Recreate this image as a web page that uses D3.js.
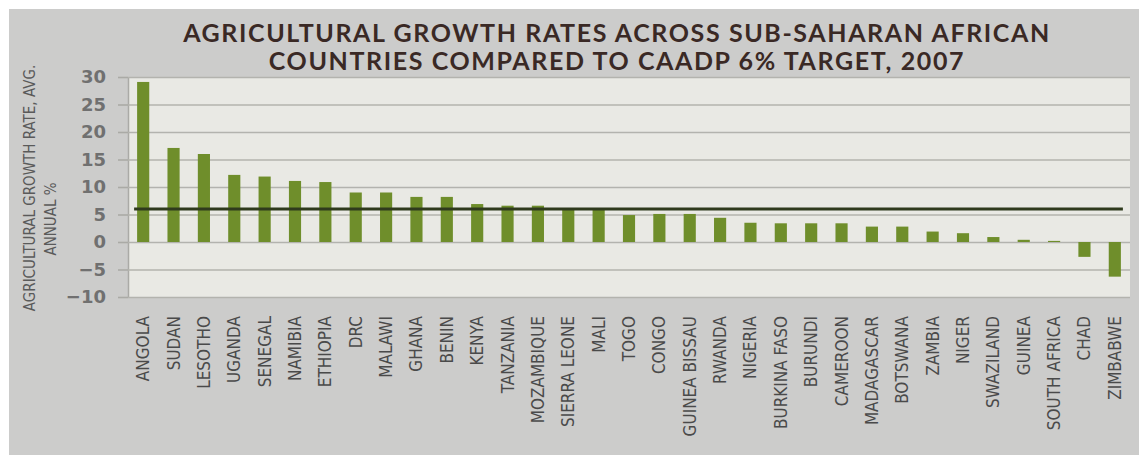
<!DOCTYPE html>
<html>
<head>
<meta charset="utf-8">
<script src="https://cdn.jsdelivr.net/npm/d3@7"></script>
<style>
  body { margin: 0; background: #ffffff; }
  svg { display: block; }
</style>
</head>
<body>
<div id="chart"></div>
<script>
// values
const countries = ["ANGOLA", "SUDAN", "LESOTHO", "UGANDA", "SENEGAL", "NAMIBIA", "ETHIOPIA", "DRC",
  "MALAWI", "GHANA", "BENIN", "KENYA", "TANZANIA", "MOZAMBIQUE", "SIERRA LEONE", "MALI", "TOGO",
  "CONGO", "GUINEA BISSAU", "RWANDA", "NIGERIA", "BURKINA FASO", "BURUNDI", "CAMEROON",
  "MADAGASCAR", "BOTSWANA", "ZAMBIA", "NIGER", "SWAZILAND", "GUINEA", "SOUTH AFRICA", "CHAD", "ZIMBABWE"];
const growthRates = [29.1, 17.1, 16.0, 12.2, 11.9, 11.1, 10.9, 9.0,
  9.0, 8.2, 8.2, 6.9, 6.6, 6.6, 6.1, 6.1, 4.9,
  5.1, 5.1, 4.4, 3.5, 3.4, 3.4, 3.4,
  2.8, 2.8, 1.9, 1.6, 0.9, 0.4, 0.2, -2.7, -6.3];
const caadpTarget = 6;
const yTicks = [30, 25, 20, 15, 10, 5, 0, -5, -10];
const titleLines = ["AGRICULTURAL GROWTH RATES ACROSS SUB-SAHARAN AFRICAN",
  "COUNTRIES COMPARED TO CAADP 6% TARGET, 2007"];
const yLabelLines = ["AGRICULTURAL GROWTH RATE, AVG.", "ANNUAL %"];

const dims = { width: 1139, height: 455,
               plot: { left: 128, right: 1130, top: 77, bottom: 297 } };

const svg = d3.select("#chart").append("svg")
  .attr("width", dims.width)
  .attr("height", dims.height);

// grey panel behind everything
svg.append("rect")
  .attr("x", 9).attr("y", 9)
  .attr("width", dims.width - 9).attr("height", dims.height - 9)
  .attr("fill", "#cccccb");

let x = d3.scaleBand()
  .domain(countries)
  .range([dims.plot.left, dims.plot.right])
  .paddingInner(0.6)
  .paddingOuter(0.3);

let y = d3.scaleLinear()
  .domain([-10, 30])
  .range([dims.plot.bottom, dims.plot.top]);

// plot area
svg.append("rect")
  .attr("x", dims.plot.left)
  .attr("y", dims.plot.top)
  .attr("width", dims.plot.right - dims.plot.left)
  .attr("height", dims.plot.bottom - dims.plot.top)
  .attr("fill", "#e9e9e4");

let yAxis = g => g
  .attr("transform", "translate(" + dims.plot.left + ",0)")
  .call(d3.axisLeft(y)
    .tickValues(yTicks)
    .tickSizeInner(-(dims.plot.right - dims.plot.left))
    .tickSizeOuter(0)
    .tickPadding(22))
  .call(g => g.select(".domain").attr("stroke", "#aaaaa6").attr("stroke-width", 1.5))
  .call(g => g.selectAll(".tick line").attr("stroke", "#b3b3ae").attr("stroke-width", 1.6))
  .call(g => g.selectAll(".tick").append("line")
    .attr("x1", -10).attr("x2", 0)
    .attr("stroke", "#aaaaa6").attr("stroke-width", 1.6))
  .call(g => g.selectAll(".tick text")
    .attr("fill", "#707070")
    .attr("font-family", "DejaVu Sans, sans-serif")
    .attr("font-weight", "bold")
    .attr("font-size", 18));

svg.append("g").call(yAxis);

// bars
svg.append("g")
  .selectAll("rect")
  .data(growthRates)
  .join("rect")
  .attr("x", (d, i) => x(countries[i]))
  .attr("y", d => y(Math.max(0, d)))
  .attr("width", x.bandwidth())
  .attr("height", d => Math.abs(y(d) - y(0)))
  .attr("fill", "#6f8e2b");

// CAADP 6% target line
svg.append("line")
  .attr("x1", x(countries[0]) - 3)
  .attr("x2", x(countries[countries.length - 1]) + x.bandwidth() + 2)
  .attr("y1", y(caadpTarget))
  .attr("y2", y(caadpTarget))
  .attr("stroke", "#2f3a1d")
  .attr("stroke-width", 3);

// country labels
svg.append("g")
  .selectAll("text")
  .data(countries)
  .join("text")
  .attr("transform", d => "translate(" + (x(d) + x.bandwidth() / 2 + 6) + "," + 316 + ") rotate(-90)")
  .attr("text-anchor", "end")
  .attr("font-family", "DejaVu Sans Condensed, DejaVu Sans, sans-serif")
  .style("font-stretch", "condensed")
  .attr("font-size", 17)
  .attr("fill", "#4a4a4a")
  .text(d => d);

// y axis title, two lines
svg.append("g")
  .selectAll("text")
  .data(yLabelLines)
  .join("text")
  .attr("transform", (d, i) => "translate(" + (i == 0 ? 35 : 56) + "," + (i == 0 ? 188 : 219) + ") rotate(-90)")
  .attr("text-anchor", "middle")
  .attr("font-family", "DejaVu Sans Condensed, DejaVu Sans, sans-serif")
  .style("font-stretch", "condensed")
  .attr("font-size", 15)
  .attr("fill", "#5a5a5a")
  .text(d => d);

// title
svg.append("g")
  .selectAll("text")
  .data(titleLines)
  .join("text")
  .attr("x", 617)
  .attr("y", (d, i) => 42 + i * 28)
  .attr("text-anchor", "middle")
  .attr("font-family", "Lato, Open Sans, sans-serif")
  .attr("font-weight", "bold")
  .attr("font-size", 25)
  .attr("letter-spacing", 1.6)
  .attr("fill", "#3a2925")
  .text(d => d);
</script>
</body>
</html>
